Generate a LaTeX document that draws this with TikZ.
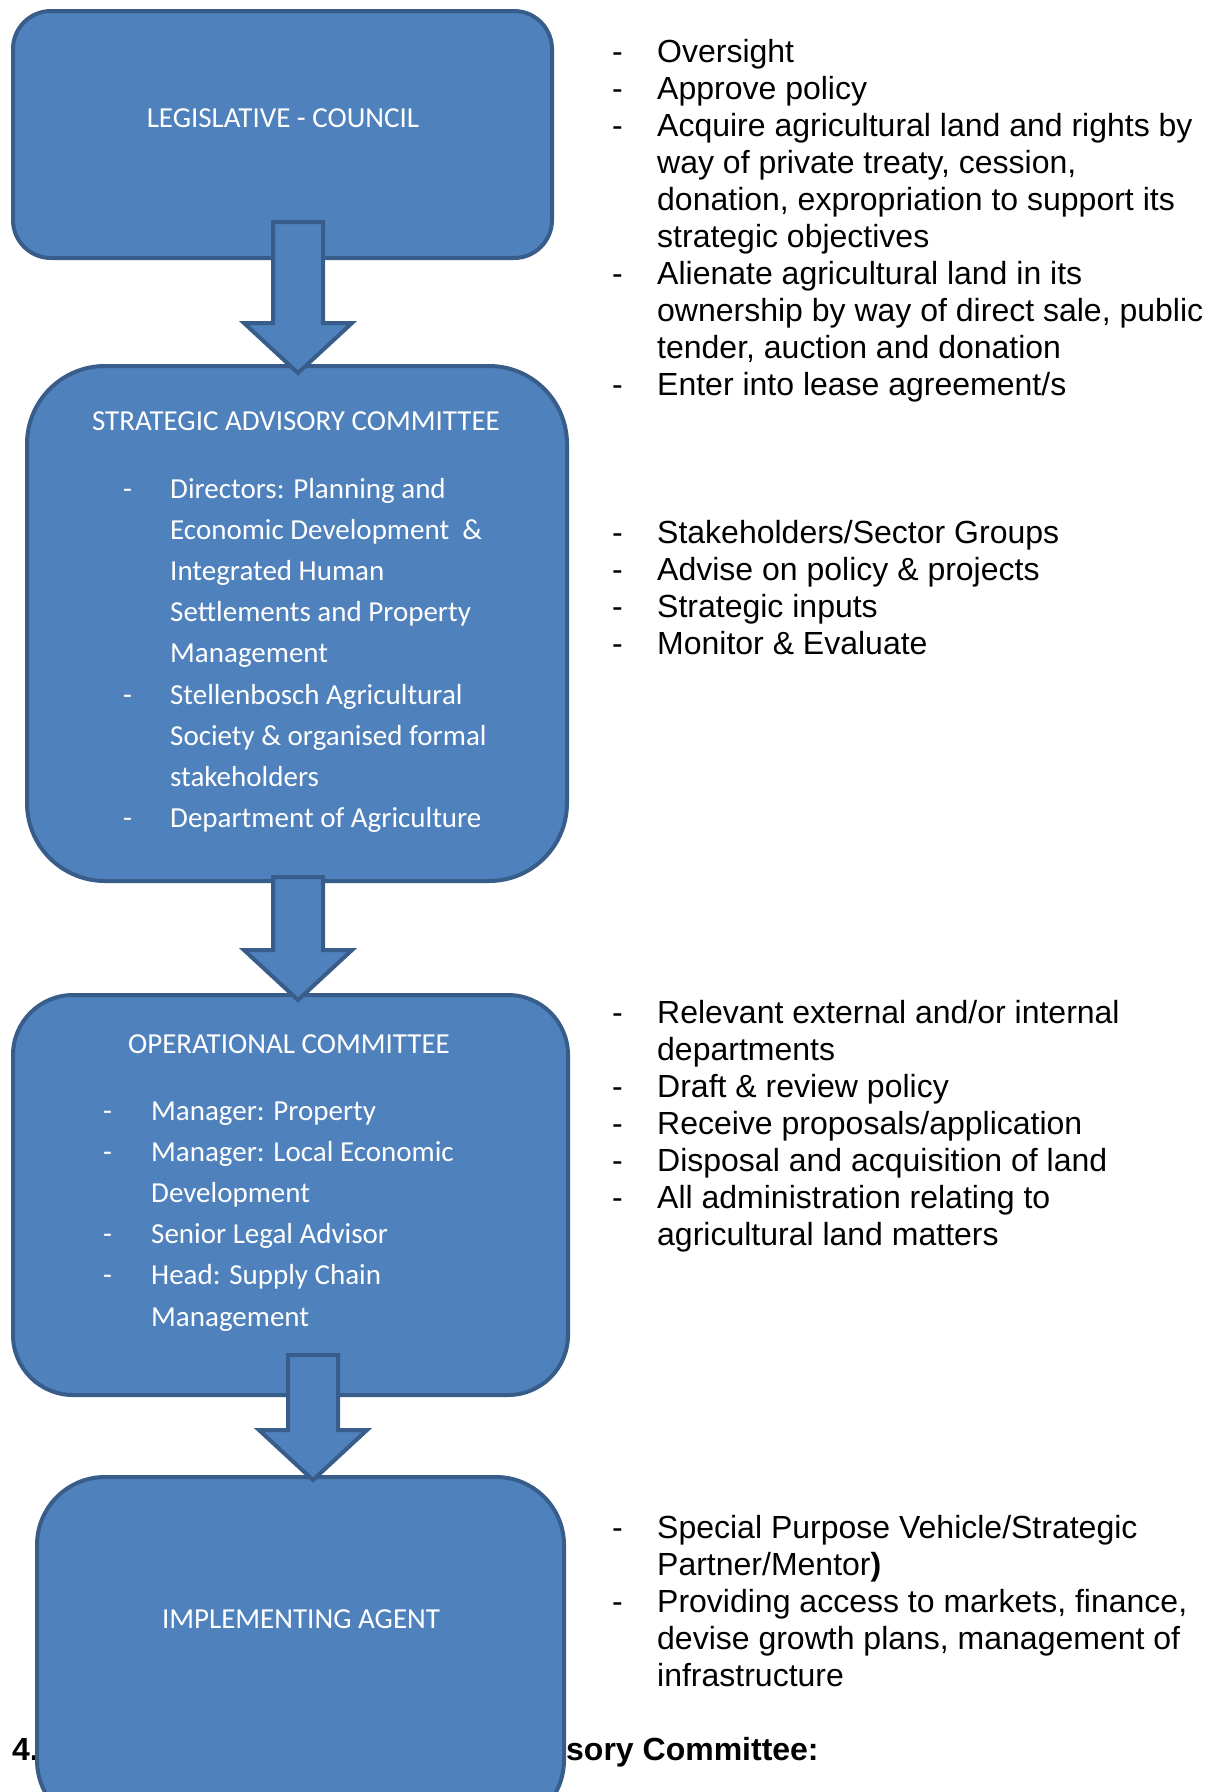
\documentclass[tikz,border=0pt]{standalone}
\usepackage{fontspec}
\setmainfont{Liberation Sans}
\newfontfamily\boxfont{Carlito}
\usetikzlibrary{calc}
\definecolor{bleu}{HTML}{4F81BD}
\definecolor{bleufonce}{HTML}{385D8A}
\newcommand{\blockarrow}[2]{%
	\draw[arrowbox] ($(#1)+(-25,0)$) -- ($(#2)+(-25,-50)$) -- ($(#2)+(-54,-50)$) -- (#2)
		-- ($(#2)+(54,-50)$) -- ($(#2)+(25,-50)$) -- ($(#1)+(25,0)$) -- cycle;}

\begin{document}
\begin{tikzpicture}[x=1pt, y=-1pt]
	\tikzstyle{panel}=[rectangle, draw=bleufonce, fill=bleu, line width=4pt, inner sep=0pt]
	\tikzstyle{arrowbox}=[draw=bleufonce, fill=bleu, line width=4pt]
	\tikzstyle{boxtext}=[inner sep=0pt, text=white, font=\boxfont\fontsize{29}{41.2}\selectfont]
	\tikzstyle{sidetext}=[inner sep=0pt, anchor=base west, font=\fontsize{32}{37}\selectfont]

	\useasboundingbox (0,0) rectangle (1214,1792);
	\clip (0,0) rectangle (1214,1792);

	% HEADING (under the last box)
	\node[sidetext, font=\bfseries\fontsize{32}{37}\selectfont] (num) at (12,1760) {4.};
	\node[sidetext, font=\bfseries\fontsize{32}{37}\selectfont] (heading) at (566,1760) {sory Committee:};

	% BOXES
	\node[panel, rounded corners=38pt, minimum width=539pt, minimum height=247pt] (LC) at (282.5,134.5) {};
	\node[panel, rounded corners=78pt, minimum width=540pt, minimum height=515pt] (SAC) at (297,623.5) {};
	\node[panel, rounded corners=60pt, minimum width=555pt, minimum height=400pt] (OC) at (290.5,1195) {};
	\node[panel, rounded corners=68pt, minimum width=527pt, minimum height=351pt] (IA) at (300.5,1652.5) {};

	% ARROWS
	\coordinate (A1s) at (298,222);
	\coordinate (A1e) at (298,373);
	\coordinate (A2s) at (298,877);
	\coordinate (A2e) at (298,1000);
	\coordinate (A3s) at (313,1355);
	\coordinate (A3e) at (313,1480);
	\blockarrow{A1s}{A1e}
	\blockarrow{A2s}{A2e}
	\blockarrow{A3s}{A3e}

	% BOX TEXTS
	\node[boxtext, anchor=base] (LCt) at (283,127) {LEGISLATIVE - COUNCIL};
	\node[boxtext, anchor=base] (SACt) at (296,430) {STRATEGIC ADVISORY COMMITTEE};
	\node[boxtext, anchor=base west] (SACl) at (123,498) {\begin{tabular}[t]{@{}p{47pt}@{}l@{}}
		- & Directors: Planning and \\
		  & Economic Development\ \ \& \\
		  & Integrated Human \\
		  & Settlements and Property \\
		  & Management \\
		- & Stellenbosch Agricultural \\
		  & Society \& organised formal \\
		  & stakeholders \\
		- & Department of Agriculture
	\end{tabular}};
	\node[boxtext, anchor=base] (OCt) at (289,1053) {OPERATIONAL COMMITTEE};
	\node[boxtext, anchor=base west] (OCl) at (103,1120) {\begin{tabular}[t]{@{}p{48pt}@{}l@{}}
		- & Manager: Property \\
		- & Manager: Local Economic \\
		  & Development \\
		- & Senior Legal Advisor \\
		- & Head: Supply Chain \\
		  & Management
	\end{tabular}};
	\node[boxtext, anchor=base] (IAt) at (301,1628) {IMPLEMENTING AGENT};

	% ROLES
	\node[sidetext] (LCr) at (612,62) {\begin{tabular}[t]{@{}p{45pt}@{}l@{}}
		- & Oversight \\
		- & Approve policy \\
		- & Acquire agricultural land and rights by \\
		  & way of private treaty, cession, \\
		  & donation, expropriation to support its \\
		  & strategic objectives \\
		- & Alienate agricultural land in its \\
		  & ownership by way of direct sale, public \\
		  & tender, auction and donation \\
		- & Enter into lease agreement/s
	\end{tabular}};
	\node[sidetext] (SACr) at (612,543) {\begin{tabular}[t]{@{}p{45pt}@{}l@{}}
		- & Stakeholders/Sector Groups \\
		- & Advise on policy \& projects \\
		- & Strategic inputs \\
		- & Monitor \& Evaluate
	\end{tabular}};
	\node[sidetext] (OCr) at (612,1023) {\begin{tabular}[t]{@{}p{45pt}@{}l@{}}
		- & Relevant external and/or internal \\
		  & departments \\
		- & Draft \& review policy \\
		- & Receive proposals/application \\
		- & Disposal and acquisition of land \\
		- & All administration relating to \\
		  & agricultural land matters
	\end{tabular}};
	\node[sidetext] (IAr) at (612,1538) {\begin{tabular}[t]{@{}p{45pt}@{}l@{}}
		- & Special Purpose Vehicle/Strategic \\
		  & Partner/Mentor\textbf{)} \\
		- & Providing access to markets, finance, \\
		  & devise growth plans, management of \\
		  & infrastructure
	\end{tabular}};
\end{tikzpicture}
\end{document}
